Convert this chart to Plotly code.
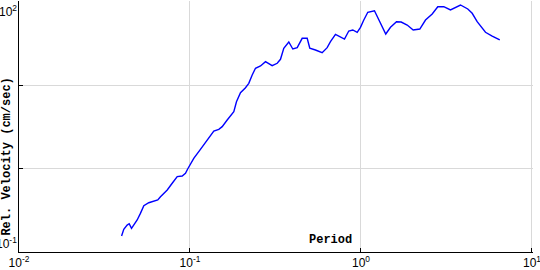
import math
import plotly.graph_objects as go

period = [0.0398, 0.0410, 0.0429, 0.0441, 0.0455, 0.0469, 0.0491, 0.0513, 0.0537, 0.0574,
          0.0614, 0.0648, 0.0672, 0.0736, 0.0787, 0.0842, 0.0900, 0.0941, 0.0971, 0.1007,
          0.1052, 0.1151, 0.1261, 0.1378, 0.1474, 0.1543, 0.1650, 0.1804, 0.1870, 0.1974,
          0.2112, 0.2207, 0.2311, 0.2415, 0.2585, 0.2764, 0.3024, 0.3236, 0.3382, 0.3536,
          0.3783, 0.3993, 0.4236, 0.4531, 0.4846, 0.5019, 0.5418, 0.5929, 0.6342, 0.6631,
          0.7093, 0.7587, 0.8008, 0.8485, 0.8956, 0.9501, 0.9933, 1.0385, 1.096, 1.199,
          1.288, 1.396, 1.488, 1.613, 1.718, 1.863, 2.020, 2.208, 2.384, 2.609,
          2.813, 3.050, 3.337, 3.570, 3.819, 4.213, 4.470, 4.781, 5.347, 5.852, 6.482]
velocity = [0.1556, 0.187, 0.210, 0.218, 0.192, 0.210, 0.242, 0.290, 0.358, 0.389,
            0.408, 0.420, 0.459, 0.553, 0.665, 0.798, 0.813, 0.876, 0.994, 1.154,
            1.325, 1.698, 2.194, 2.813, 2.948, 3.168, 3.809, 4.788, 6.31, 8.09,
            9.28, 10.48, 13.18, 15.85, 16.89, 19.01, 17.02, 18.20, 20.31, 27.52,
            32.73, 26.98, 27.97, 36.25, 36.25, 27.52, 26.26, 24.37, 27.97, 33.01,
            40.48, 37.87, 35.55, 44.33, 45.57, 42.77, 49.09, 60.02, 74.25, 77.6,
            57.3, 40.8, 49.09, 57.3, 56.8, 52.3, 45.57, 46.85, 60.02, 70.85,
            86.6, 86.6, 79.1, 85.2, 90.8, 81.3, 72.2, 57.3, 42.77, 38.6, 34.6]

x_tickvals = [0.01, 0.1, 1, 10]
x_ticktext = ["10<sup>-2</sup>", "10<sup>-1</sup>", "10<sup>0</sup>", "10<sup>1</sup>"]
y_tickvals = [0.1, 1, 10, 100]
y_label_vals = [100, 0.1]
y_label_text = ["10<sup>2</sup>", "10<sup>-1</sup>"]

x_title = "Period"
y_title = "Rel. Velocity (cm/sec)"

fig = go.Figure()
fig.add_trace(go.Scatter(x=period, y=velocity, mode="lines",
                         line=dict(color="#0000ff", width=1.4), showlegend=False))

tick_font = dict(family="Liberation Sans", size=12, color="black")
title_font = dict(family="Liberation Mono", size=12, color="black")

common = dict(type="log", tickmode="array", showgrid=True, gridcolor="#d9d9d9",
              gridwidth=1, showline=True, linecolor="black", linewidth=1,
              ticks="inside", ticklen=4, tickcolor="black", automargin=False,
              zeroline=False)

fig.update_layout(
    width=540, height=270,
    margin=dict(l=19, r=7, t=1, b=18, autoexpand=False),
    paper_bgcolor="white", plot_bgcolor="white",
    xaxis=dict(range=[-2, 1.006], tickvals=x_tickvals, ticktext=x_ticktext,
               tickfont=tick_font, ticklabeloverflow="allow", **common),
    yaxis=dict(range=[-1, 2.006], tickvals=y_tickvals, showticklabels=False,
               **common),
)

for val, txt in zip(y_label_vals, y_label_text):
    fig.add_annotation(x=0, xref="paper", y=math.log10(val), yref="y", text=txt,
                       showarrow=False, xanchor="right",
                       yanchor="top" if val > 1 else "bottom",
                       xshift=-1, font=tick_font, borderpad=0)

fig.add_annotation(x=0.606, xref="paper", y=0, yref="paper", text="<b>" + x_title + "</b>",
                   showarrow=False, xanchor="center", yanchor="bottom", yshift=3,
                   font=title_font)
fig.add_annotation(x=0, xref="paper", y=0.38, yref="paper", text="<b>" + y_title + "</b>",
                   showarrow=False, textangle=-90, xanchor="center", yanchor="middle",
                   xshift=-12, font=title_font)

fig.write_html("out.html")
